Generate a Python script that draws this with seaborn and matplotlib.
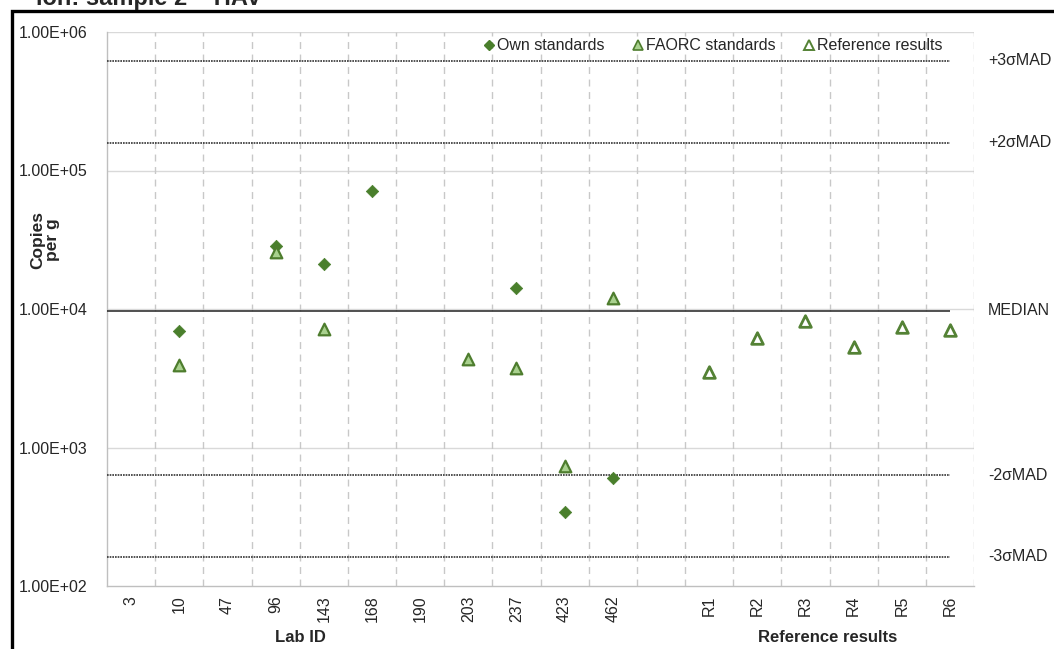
import numpy as np
import pandas as pd
import seaborn as sns
import matplotlib.pyplot as plt
from matplotlib.patches import Rectangle
from matplotlib.ticker import FixedLocator, FuncFormatter, NullLocator
from matplotlib.lines import Line2D

sns.set_style("white")
plt.rcParams['font.family'] = ['Liberation Sans', 'DejaVu Sans']

# categories on the x axis (blank slot between labs and reference results)
labs = ["3", "10", "47", "96", "143", "168", "190", "203", "237", "423", "462", "",
        "R1", "R2", "R3", "R4", "R5", "R6"]

own_labs = ["10", "96", "143", "168", "237", "423", "462"]
own_vals = [6.9e3, 2.85e4, 2.1e4, 7.1e4, 1.42e4, 3.4e2, 6.0e2]

faorc_labs = ["10", "96", "143", "203", "237", "423", "462"]
faorc_vals = [3.95e3, 2.58e4, 7.2e3, 4.35e3, 3.75e3, 7.35e2, 1.2e4]

ref_labs = ["R1", "R2", "R3", "R4", "R5", "R6"]
ref_vals = [3.5e3, 6.2e3, 8.2e3, 5.3e3, 7.4e3, 7.0e3]

limit_names = ["+3σMAD", "+2σMAD", "MEDIAN", "-2σMAD", "-3σMAD"]
limit_vals = [6.2e5, 1.58e5, 9.7e3, 6.3e2, 1.62e2]

series = [
    ("Own standards", own_labs, own_vals),
    ("FAORC standards", faorc_labs, faorc_vals),
    ("Reference results", ref_labs, ref_vals),
]
df = pd.concat([
    pd.DataFrame({"Lab": l, "Copies": v, "Series": name}) for name, l, v in series
], ignore_index=True)
df["pos"] = df["Lab"].map({lab: i for i, lab in enumerate(labs)})

styles = {
    "Own standards": dict(marker="D", s=40, color="#4a7f2c", edgecolor="#4a7f2c", linewidth=0.5),
    "FAORC standards": dict(marker="^", s=70, color="#a9d18e", edgecolor="#4e7d2e", linewidth=1.6),
    "Reference results": dict(marker="^", s=70, color="white", edgecolor="#548235", linewidth=2.0),
}

fs = 11.5

fig = plt.figure(figsize=(10.54, 6.49), dpi=100)
ax = fig.add_axes([107 / 1054, 1 - 586 / 649, (974 - 107) / 1054, (586 - 32) / 649])

for name, _, _ in series:
    sub = df[df["Series"] == name]
    sns.scatterplot(data=sub, x="pos", y="Copies", ax=ax, zorder=5, legend=False, **styles[name])

ax.set_yscale("log")
ax.set_ylim(1e2, 1e6)
ax.set_xlim(-0.5, len(labs) - 0.5)

# limit lines
for name, v in zip(limit_names, limit_vals):
    if name == "MEDIAN":
        ax.hlines(v, -0.5, len(labs) - 1, color="#222222", lw=1.1, zorder=3)
    else:
        ax.hlines(v, -0.5, len(labs) - 1, color="#333333", lw=1.2, linestyles=(0, (1, 0.6)), zorder=3)
    ax.text(1.016, v, name, transform=ax.get_yaxis_transform(), va="center", ha="left", fontsize=fs)

# grid
for yv in [1e3, 1e4, 1e5, 1e6]:
    ax.axhline(yv, color="#d9d9d9", lw=1, zorder=1)
for k in range(1, len(labs) + 1):
    ax.axvline(k - 0.5, color="#c8c8c8", lw=1, linestyle=(0, (5, 4)), zorder=1)

ax.yaxis.set_major_locator(FixedLocator([1e2, 1e3, 1e4, 1e5, 1e6]))
ax.yaxis.set_minor_locator(NullLocator())
ax.yaxis.set_major_formatter(FuncFormatter(lambda v, p: "1.00E+%02d" % int(round(np.log10(v)))))
ax.set_xticks(range(len(labs)))
ax.set_xticklabels(labs, rotation=90, fontsize=fs)
ax.tick_params(axis="y", labelsize=fs, length=0, pad=14)
ax.tick_params(axis="x", length=0, pad=7)

for s in ["top", "right"]:
    ax.spines[s].set_visible(False)
for s in ["left", "bottom"]:
    ax.spines[s].set_color("#bfbfbf")
    ax.spines[s].set_linewidth(1)

ax.set_xlabel("")
ax.set_ylabel("Copies\nper g", fontsize=12.5, fontweight="bold", linespacing=1.0)
ax.yaxis.set_label_coords(-0.054, 0.625)

fig.text(300 / 1054, 1 - 637 / 649, "Lab ID", ha="center", va="center", fontsize=12, fontweight="bold")
fig.text(828 / 1054, 1 - 637 / 649, "Reference results", ha="center", va="center", fontsize=12, fontweight="bold")

handles = [
    Line2D([], [], linestyle="none", marker="D", markersize=5, color="#4a7f2c"),
    Line2D([], [], linestyle="none", marker="^", markersize=7, markerfacecolor="#a9d18e",
           markeredgecolor="#4e7d2e", markeredgewidth=1.2),
    Line2D([], [], linestyle="none", marker="^", markersize=7, markerfacecolor="white",
           markeredgecolor="#548235", markeredgewidth=1.4),
]
fig.legend(handles, ["Own standards", "FAORC standards", "Reference results"], ncol=3,
           loc="center", bbox_to_anchor=(712 / 1054, 1 - 46 / 649), frameon=False,
           fontsize=fs, handletextpad=0.0, columnspacing=1.6, handlelength=1.0)

# page frame and cut-off caption
fig.patches.append(Rectangle((12 / 1054, -0.1), 1.2, 1.1 - 11 / 649, transform=fig.transFigure,
                             fill=False, edgecolor="black", linewidth=2.4))
fig.text(262 / 1054, 1 - 5 / 649, "ion: sample 2 \u2013 HAV", ha="right", va="baseline",
         fontsize=17, fontweight="bold")

fig.savefig("out.png", dpi=100)
